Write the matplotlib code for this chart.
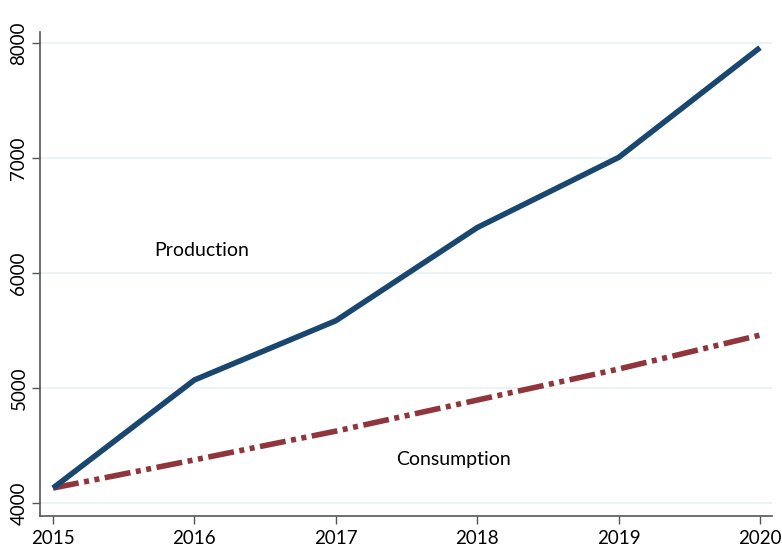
import matplotlib
matplotlib.use("Agg")
import matplotlib.pyplot as plt

years = [2015, 2016, 2017, 2018, 2019, 2020]
production = [4130, 5070, 5585, 6395, 7005, 7960]
consumption = [4130, 4375, 4625, 4895, 5165, 5460]
yticks = [4000, 5000, 6000, 7000, 8000]

plt.rcParams['font.family'] = ['Lato', 'DejaVu Sans']

fig = plt.figure(figsize=(7.82, 5.49), dpi=100)
ax = fig.add_axes([40/782, 33/549, 732/782, 484/549])

for y in yticks:
    ax.axhline(y, color='#eaf2f3', lw=1.3, zorder=0)

ax.plot(years, production, color='#1a476f', lw=4.0, solid_capstyle='butt', zorder=3)
ax.plot(years, consumption, color='#90353b', lw=4.0, dashes=(4.7, 1.0, 0.9, 1.0, 0.9, 1.0), zorder=2)

ax.text(2016.05, 6200, 'Production', fontsize=14, ha='center', va='center')
ax.text(2017.83, 4374, 'Consumption', fontsize=14, ha='center', va='center')

ax.set_xlim(2014.908, 2020.085)
ax.set_ylim(3887, 8096)
ax.set_xticks(years)
ax.set_yticks(yticks)
ax.set_yticklabels([str(v) for v in yticks], rotation=90, va='center')
ax.tick_params(axis='both', labelsize=13.5, length=6, width=1, color='#555555')
ax.tick_params(axis='y', pad=3)
ax.tick_params(axis='x', pad=4)
for s in ['top', 'right']:
    ax.spines[s].set_visible(False)
for s in ['left', 'bottom']:
    ax.spines[s].set_color('#555555')
    ax.spines[s].set_linewidth(1.2)

fig.savefig('out.png', dpi=100)
